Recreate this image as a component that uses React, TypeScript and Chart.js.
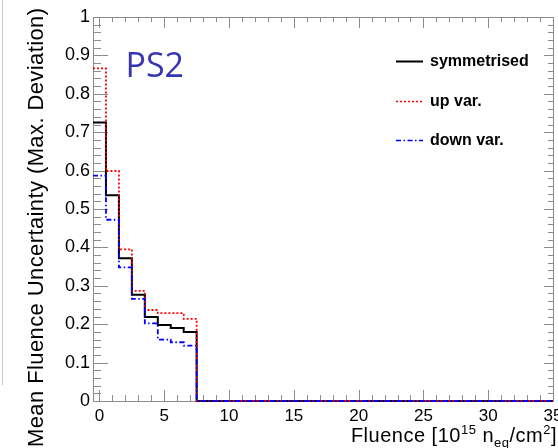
import React, { useEffect, useRef } from 'react';
import { Chart, registerables } from 'chart.js';

Chart.register(...registerables);

// ---- data ----
const binCenters = [0, 1, 2, 3, 4, 5, 6, 7];
const symmetrised = [0.725, 0.536, 0.372, 0.277, 0.219, 0.198, 0.19, 0.18];
const upVar = [0.866, 0.599, 0.395, 0.287, 0.237, 0.229, 0.229, 0.214];
const downVar = [0.587, 0.472, 0.348, 0.266, 0.202, 0.16, 0.153, 0.144];
const binWidth = 1;
const xMin = -0.5;
const xMax = 35;
const yMin = 0;
const yMax = 1;
const xTickValues = [0, 5, 10, 15, 20, 25, 30, 35];
const xTickLabels = ['0', '5', '10', '15', '20', '25', '30', '35'];
const yTickValues = [0, 0.1, 0.2, 0.3, 0.4, 0.5, 0.6, 0.7, 0.8, 0.9, 1];
const yTickLabels = ['0', '0.1', '0.2', '0.3', '0.4', '0.5', '0.6', '0.7', '0.8', '0.9', '1'];
const seriesLabels = ['symmetrised', 'up var.', 'down var.'];
const yTitle = 'Mean Fluence Uncertainty (Max. Deviation)';
const panelLabel = 'PS2';

const FONT = '"Liberation Sans", Arial, Helvetica, sans-serif';
const FRAME = '#8c8c8c';

function histPoints(values: number[]) {
  const pts = values.map((v, i) => ({ x: binCenters[i] - binWidth / 2, y: v }));
  const lastEdge = binCenters[binCenters.length - 1] + binWidth / 2;
  pts.push({ x: lastEdge, y: 0 });
  pts.push({ x: xMax, y: 0 });
  return pts;
}

const styles = [
  { color: '#000000', dash: [] as number[], width: 2 },
  { color: '#ff0000', dash: [2, 2], width: 1.8 },
  { color: '#0000ff', dash: [5, 2.5, 1.5, 2.5], width: 1.8 },
];

const rootPlugin = {
  id: 'rootStyle',
  beforeDatasetsDraw(chart: any) {
    const { ctx, chartArea: a, scales } = chart;
    const xs = scales.x;
    const ys = scales.y;
    ctx.save();
    ctx.strokeStyle = FRAME;
    ctx.lineWidth = 1;
    ctx.setLineDash([]);
    // frame
    ctx.strokeRect(Math.round(a.left) + 0.5, Math.round(a.top) + 0.5, Math.round(a.right - a.left), Math.round(a.bottom - a.top));
    ctx.beginPath();
    // y ticks (major every 0.1, minor every 0.02)
    for (let k = 0; k <= 50; k++) {
      const v = yMin + (k * (yMax - yMin)) / 50;
      const py = Math.round(ys.getPixelForValue(v)) + 0.5;
      const major = k % 5 === 0;
      ctx.moveTo(a.left, py);
      ctx.lineTo(a.left + (major ? 15 : 8), py);
      ctx.moveTo(a.right, py);
      ctx.lineTo(a.right - (major ? 9 : 5), py);
    }
    // x ticks (major every 5, minor every 1)
    for (let k = 0; k <= 35; k++) {
      const px = Math.round(xs.getPixelForValue(k)) + 0.5;
      const major = k % 5 === 0;
      ctx.moveTo(px, a.bottom);
      ctx.lineTo(px, a.bottom - (major ? 11 : 6));
      ctx.moveTo(px, a.top);
      ctx.lineTo(px, a.top + (major ? 11 : 5));
    }
    ctx.stroke();
    // neighbouring panel edge
    ctx.strokeStyle = '#c8c8c8';
    ctx.beginPath();
    ctx.moveTo(2.5, 0);
    ctx.lineTo(2.5, 385);
    ctx.stroke();
    ctx.restore();
  },
  afterDraw(chart: any) {
    const { ctx } = chart;
    ctx.save();
    ctx.fillStyle = '#000';
    // y title
    ctx.save();
    ctx.font = `22px ${FONT}`;
    try { (ctx as any).letterSpacing = '0.4px'; } catch (e) {}
    ctx.translate(43, 447);
    ctx.rotate(-Math.PI / 2);
    ctx.textAlign = 'left';
    ctx.textBaseline = 'alphabetic';
    ctx.fillText(yTitle, 0, 0);
    ctx.restore();

    // x title with super/subscripts
    ctx.save();
    try { (ctx as any).letterSpacing = '0.5px'; } catch (e) {}
    const main = `20px ${FONT}`;
    const small = `13px ${FONT}`;
    const pieces = [
      { t: 'Fluence [10', f: main, dy: 0 },
      { t: '15', f: small, dy: -8 },
      { t: ' n', f: main, dy: 0 },
      { t: 'eq', f: small, dy: 5 },
      { t: '/cm', f: main, dy: 0 },
      { t: '2', f: small, dy: -8 },
      { t: ']', f: main, dy: 0 },
    ];
    let total = 0;
    for (const p of pieces) {
      ctx.font = p.f;
      total += ctx.measureText(p.t).width;
    }
    let x = 557 - total;
    const base = 442;
    ctx.textAlign = 'left';
    ctx.textBaseline = 'alphabetic';
    for (const p of pieces) {
      ctx.font = p.f;
      ctx.fillText(p.t, x, base + p.dy);
      x += ctx.measureText(p.t).width;
    }
    ctx.restore();

    // legend
    const ly0 = 61;
    const lstep = 39.5;
    for (let i = 0; i < seriesLabels.length; i++) {
      const y = ly0 + i * lstep;
      const s = styles[i];
      ctx.save();
      ctx.strokeStyle = s.color;
      ctx.lineWidth = s.width === 2 ? 2 : 1.5;
      ctx.setLineDash(s.dash);
      ctx.beginPath();
      ctx.moveTo(396, Math.round(y) + 0.5);
      ctx.lineTo(423, Math.round(y) + 0.5);
      ctx.stroke();
      ctx.restore();
      ctx.font = `bold 16px ${FONT}`;
      ctx.textAlign = 'left';
      ctx.textBaseline = 'middle';
      ctx.fillStyle = '#000';
      ctx.fillText(seriesLabels[i], 430, y + 1);
    }

    // panel label
    ctx.font = `34px "Open Sans", ${FONT}`;
    ctx.fillStyle = '#3535b5';
    ctx.textAlign = 'left';
    ctx.textBaseline = 'alphabetic';
    ctx.fillText(panelLabel, 125.5, 77);
    ctx.restore();
  },
};

export default function App() {
  const canvasRef = useRef<HTMLCanvasElement | null>(null);

  useEffect(() => {
    document.body.style.margin = '0';
    const canvas = canvasRef.current;
    if (!canvas) return;
    const seriesValues = [symmetrised, upVar, downVar];
    // draw order: first dataset on top -> blue, red, black
    const order = [2, 1, 0];
    const datasets = order.map((i) => ({
      label: seriesLabels[i],
      data: histPoints(seriesValues[i]),
      borderColor: styles[i].color,
      borderWidth: styles[i].width,
      borderDash: styles[i].dash,
      stepped: true as const,
      pointRadius: 0,
      fill: false,
      clip: 4,
    }));

    const chart = new Chart(canvas, {
      type: 'line',
      data: { datasets },
      options: {
        animation: false,
        responsive: false,
        devicePixelRatio: 1,
        layout: { padding: { top: 17, right: 5, left: 0, bottom: 0 } },
        plugins: {
          legend: { display: false },
          tooltip: { enabled: false },
          title: { display: false },
        },
        elements: { point: { radius: 0 }, line: { tension: 0 } },
        scales: {
          x: {
            type: 'linear',
            min: xMin,
            max: xMax,
            grid: { display: false, drawTicks: false },
            border: { display: false },
            afterBuildTicks: (s: any) => {
              s.ticks = xTickValues.map((v) => ({ value: v }));
            },
            afterFit: (s: any) => {
              s.height = 47;
              s.paddingLeft = 0;
              s.paddingRight = 0;
            },
            ticks: {
              autoSkip: false,
              maxRotation: 0,
              minRotation: 0,
              padding: 5,
              color: '#000',
              font: { family: FONT, size: 17 },
              callback: (v: any) => {
                const i = xTickValues.findIndex((t) => Math.abs(t - Number(v)) < 1e-9);
                return i >= 0 ? xTickLabels[i] : '';
              },
            },
          },
          y: {
            type: 'linear',
            min: yMin,
            max: yMax,
            grid: { display: false, drawTicks: false },
            border: { display: false },
            afterBuildTicks: (s: any) => {
              s.ticks = yTickValues.map((v) => ({ value: v }));
            },
            afterFit: (s: any) => {
              s.width = 93;
              s.paddingTop = 0;
              s.paddingBottom = 0;
            },
            ticks: {
              autoSkip: false,
              padding: 3,
              color: '#000',
              font: { family: FONT, size: 18 },
              callback: (v: any) => {
                const i = yTickValues.findIndex((t) => Math.abs(t - Number(v)) < 1e-9);
                return i >= 0 ? yTickLabels[i] : '';
              },
            },
          },
        },
      },
      plugins: [rootPlugin],
    } as any);

    return () => {
      chart.destroy();
    };
  }, []);

  return (
    <div style={{ width: 558, height: 448, background: '#fff' }}>
      <canvas ref={canvasRef} width={558} height={448} style={{ display: 'block' }} />
    </div>
  );
}
